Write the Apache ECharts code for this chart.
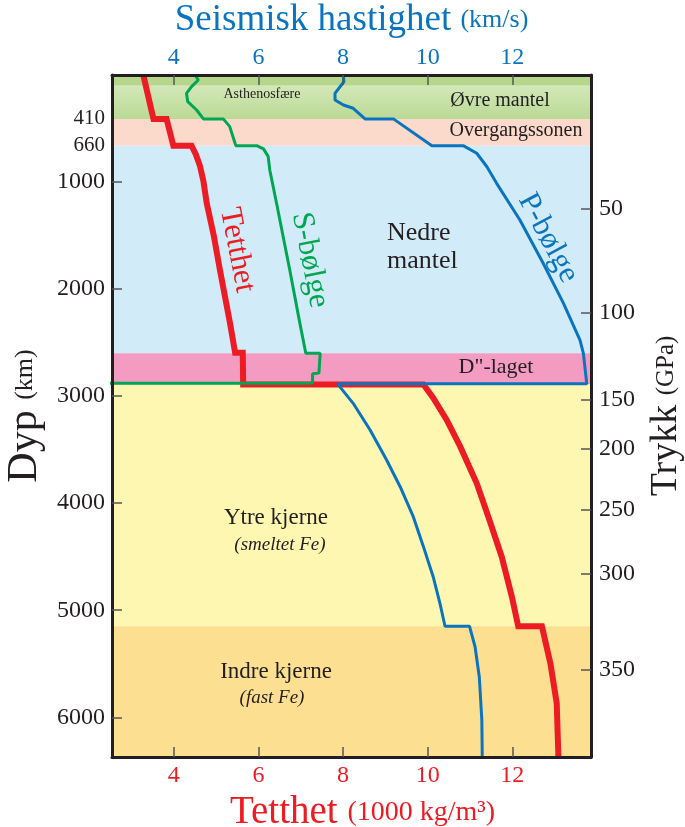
<!DOCTYPE html>
<html><head><meta charset="utf-8">
<script src="https://cdn.jsdelivr.net/npm/echarts@6/dist/echarts.min.js"></script>
<style>html,body{margin:0;padding:0;background:#fff}#c{width:685px;height:827px}</style>
</head><body><div id="c"></div>
<script>
// ---- data (depth in km) ----
const densityDepths = [0, 410, 410, 660, 660, 740, 850, 990, 1200, 1510, 1820, 2320, 2595, 2595, 2891, 2891, 3010, 3223, 3472, 3814, 4157, 4500, 4873, 5150, 5150, 5496, 5869, 6371];
const densityValues = [3.28, 3.52, 3.83, 3.99, 4.42, 4.52, 4.62, 4.70, 4.78, 4.95, 5.09, 5.33, 5.45, 5.63, 5.64, 9.90, 10.12, 10.45, 10.77, 11.16, 11.46, 11.75, 11.99, 12.14, 12.70, 12.90, 13.05, 13.09];

const sDepths = [0, 47, 109, 171, 249, 327, 410, 410, 480, 640, 660, 660, 690, 760, 890, 1200, 1820, 2320, 2600, 2600, 2785, 2790, 2880, 2880];
const sValues = [4.50, 4.58, 4.42, 4.30, 4.33, 4.54, 4.70, 5.17, 5.32, 5.45, 5.47, 5.96, 6.12, 6.23, 6.27, 6.43, 6.74, 6.98, 7.12, 7.46, 7.43, 7.28, 7.28, 0];

const pDepths = [0, 63, 171, 234, 280, 311, 410, 410, 660, 660, 731, 857, 1012, 1355, 1759, 2133, 2476, 2600, 2885, 2885, 3067, 3316, 3597, 3846, 4126, 4406, 4687, 4935, 5150, 5150, 5341, 5621, 6025, 6371];
const pValues = [8.01, 8.02, 7.81, 7.81, 8.01, 8.24, 8.52, 9.19, 10.10, 10.84, 11.16, 11.40, 11.63, 12.18, 12.73, 13.21, 13.60, 13.68, 13.76, 7.87, 8.24, 8.64, 9.03, 9.35, 9.66, 9.90, 10.13, 10.29, 10.41, 10.99, 11.12, 11.22, 11.28, 11.29];

const bandTops = [0, 100, 410, 660, 2600, 2891, 5150];
const bandBottoms = [100, 410, 660, 2600, 2891, 5150, 6371];

const xTicks = [4, 6, 8, 10, 12];
const depthTicks = [1000, 2000, 3000, 4000, 5000, 6000];
const depthLabels = [410, 660, 1000, 2000, 3000, 4000, 5000, 6000];
const pressureTicks = [50, 100, 150, 200, 250, 300, 350];
const pressureDepths = [1245, 2220, 3036, 3487, 4064, 4655, 5558];

// ---- styles ----
const RED = '#ec1c24', GREEN = '#00a651', BLUE = '#0a74bf', INK = '#231f20';
const FONT = 'Liberation Serif';
const bandColors = [
  '#b6d68c',
  {type:'linear', x:0, y:0, x2:0, y2:1, colorStops:[{offset:0,color:'#d3e8b8'},{offset:1,color:'#bbd995'}]},
  '#fcdacb', '#d2ebf8', '#f39bc0', '#fef7b2', '#fddf92'
];

const zip = (vals, deps) => vals.map((v, i) => [v, deps[i]]);

const chart = echarts.init(document.getElementById('c'), null, {renderer: 'canvas'});

const axisLine = {show: true, onZero: false, lineStyle: {color: INK, width: 3}};
const tickStyle = {color: '#555', width: 1.5};

const option = {
  animation: false,
  backgroundColor: '#fff',
  grid: {left: 112, top: 75, width: 479, height: 682, containLabel: false, outerBoundsMode: 'none'},
  xAxis: [
    {
      type: 'value', position: 'bottom', min: 2.54, max: 13.86, z: 5,
      axisLine, splitLine: {show: false},
      axisTick: {show: true, inside: true, length: 10, customValues: xTicks, lineStyle: tickStyle},
      axisLabel: {customValues: xTicks, color: RED, fontSize: 24, fontFamily: FONT, margin: 7},
      name: '{a|Tetthet }{b|(1000 kg/m³)}', nameLocation: 'middle', nameGap: 36,
      nameTextStyle: {fontFamily: FONT, padding: [0, 0, 0, 22], rich: {a: {fontSize: 39, color: RED, fontFamily: FONT}, b: {fontSize: 28, color: RED, fontFamily: FONT}}}
    },
    {
      type: 'value', position: 'top', min: 2.54, max: 13.86, z: 5,
      axisLine, splitLine: {show: false},
      axisTick: {show: true, inside: true, length: 10, customValues: xTicks, lineStyle: tickStyle},
      axisLabel: {customValues: xTicks, color: BLUE, fontSize: 24, fontFamily: FONT, margin: 5},
      name: '{a|Seismisk hastighet }{b|(km/s)}', nameLocation: 'middle', nameGap: 36,
      nameTextStyle: {fontFamily: FONT, rich: {a: {fontSize: 37, color: BLUE, fontFamily: FONT}, b: {fontSize: 26, color: BLUE, fontFamily: FONT}}}
    }
  ],
  yAxis: [
    {
      type: 'value', position: 'left', inverse: true, min: 0, max: 6371, z: 5,
      axisLine, splitLine: {show: false},
      axisTick: {show: true, inside: true, length: 10, customValues: depthTicks, lineStyle: tickStyle},
      axisLabel: {customValues: depthLabels, margin: 7, fontFamily: FONT,
        formatter: v => (v < 1000 ? '{s|' + v + '}' : '{n|' + v + '}'),
        rich: {s: {fontSize: 21, color: INK, fontFamily: FONT}, n: {fontSize: 24, color: INK, fontFamily: FONT}}},
      name: '{a|Dyp }{b|(km)}', nameLocation: 'middle', nameGap: 62,
      nameTextStyle: {fontFamily: FONT, rich: {a: {fontSize: 42, color: INK, fontFamily: FONT}, b: {fontSize: 26, color: INK, fontFamily: FONT}}}
    },
    {
      type: 'value', position: 'right', inverse: true, min: 0, max: 6371, z: 5,
      axisLine, splitLine: {show: false},
      axisTick: {show: true, inside: true, length: 10, customValues: pressureDepths, lineStyle: tickStyle},
      axisLabel: {customValues: pressureDepths, margin: 8, color: INK, fontSize: 24, fontFamily: FONT,
        formatter: v => String(pressureTicks[pressureDepths.indexOf(v)])},
      name: '{a|Trykk }{b|(GPa)}', nameLocation: 'middle', nameGap: 56,
      nameTextStyle: {fontFamily: FONT, rich: {a: {fontSize: 38, color: INK, fontFamily: FONT}, b: {fontSize: 25, color: INK, fontFamily: FONT}}}
    }
  ],
  series: [
    {
      name: 'Tetthet', type: 'line', xAxisIndex: 0, yAxisIndex: 0, z: 3,
      data: zip(densityValues, densityDepths), showSymbol: false, symbol: 'none', clip: true,
      lineStyle: {color: RED, width: 6, join: 'miter'},
      markArea: {silent: true, z: 1,
        data: bandTops.map((t, i) => [{yAxis: t, itemStyle: {color: bandColors[i]}}, {yAxis: bandBottoms[i]}])}
    },
    {
      name: 'S-bølge', type: 'line', xAxisIndex: 1, yAxisIndex: 0, z: 4,
      data: zip(sValues, sDepths), showSymbol: false, symbol: 'none', clip: true,
      lineStyle: {color: GREEN, width: 3}
    },
    {
      name: 'P-bølge', type: 'line', xAxisIndex: 1, yAxisIndex: 0, z: 4,
      data: zip(pValues, pDepths), showSymbol: false, symbol: 'none', clip: true,
      lineStyle: {color: BLUE, width: 3}
    }
  ],
  graphic: [
    {type: 'text', x: 262, y: 94, z: 20, style: {text: 'Asthenosfære', font: '14px "Liberation Serif"', fill: INK, align: 'center', verticalAlign: 'middle'}},
    {type: 'text', x: 500, y: 101, z: 20, style: {text: 'Øvre mantel', font: '20px "Liberation Serif"', fill: INK, align: 'center', verticalAlign: 'middle'}},
    {type: 'text', x: 516, y: 131, z: 20, style: {text: 'Overgangssonen', font: '20px "Liberation Serif"', fill: INK, align: 'center', verticalAlign: 'middle'}},
    {type: 'text', x: 387, y: 233, z: 20, style: {text: 'Nedre', font: '26px "Liberation Serif"', fill: INK, align: 'left', verticalAlign: 'middle'}},
    {type: 'text', x: 387, y: 261, z: 20, style: {text: 'mantel', font: '26px "Liberation Serif"', fill: INK, align: 'left', verticalAlign: 'middle'}},
    {type: 'text', x: 496, y: 367, z: 20, style: {text: 'D"-laget', font: '22px "Liberation Serif"', fill: INK, align: 'center', verticalAlign: 'middle'}},
    {type: 'text', x: 276, y: 518, z: 20, style: {text: 'Ytre kjerne', font: '23px "Liberation Serif"', fill: INK, align: 'center', verticalAlign: 'middle'}},
    {type: 'text', x: 280, y: 545, z: 20, style: {text: '(smeltet Fe)', font: 'italic 19px "Liberation Serif"', fill: INK, align: 'center', verticalAlign: 'middle'}},
    {type: 'text', x: 276, y: 672, z: 20, style: {text: 'Indre kjerne', font: '23px "Liberation Serif"', fill: INK, align: 'center', verticalAlign: 'middle'}},
    {type: 'text', x: 272, y: 698, z: 20, style: {text: '(fast Fe)', font: 'italic 19px "Liberation Serif"', fill: INK, align: 'center', verticalAlign: 'middle'}},
    {type: 'text', x: 237, y: 250, z: 20, rotation: -79 * Math.PI / 180, style: {text: 'Tetthet', font: '31px "Liberation Serif"', fill: RED, align: 'center', verticalAlign: 'middle'}},
    {type: 'text', x: 310, y: 260, z: 20, rotation: -79 * Math.PI / 180, style: {text: 'S-bølge', font: '31px "Liberation Serif"', fill: GREEN, align: 'center', verticalAlign: 'middle'}},
    {type: 'text', x: 548, y: 238, z: 20, rotation: -62 * Math.PI / 180, style: {text: 'P-bølge', font: '31px "Liberation Serif"', fill: BLUE, align: 'center', verticalAlign: 'middle'}}
  ]
};
chart.setOption(option);
</script>
</body></html>
